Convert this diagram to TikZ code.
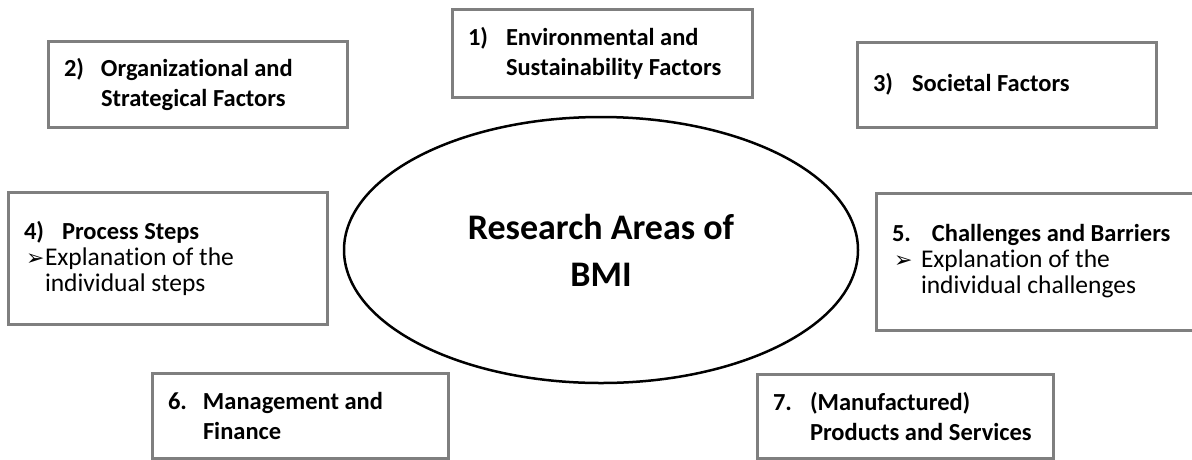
\documentclass[tikz,border=0pt]{standalone}
\usepackage{fontspec}
\setmainfont{Carlito}[Ligatures=NoCommon]
\newfontfamily\symfont{DejaVu Sans}
\usetikzlibrary{shapes.geometric}
\definecolor{boxgray}{RGB}{127,127,127}
\newcommand{\lbl}[2][37pt]{\makebox[#1][l]{#2}}
\newcommand{\bul}[1][22pt]{\makebox[#1][l]{\hspace*{2pt}\symfont\fontsize{22}{22}\selectfont ➢}}
\newcommand{\expl}{\mdseries\fontsize{25.5}{26}\selectfont}

\begin{document}
\begin{tikzpicture}[
        x=1pt, y=-1pt,
        factor/.style={draw=boxgray, line width=3pt, inner xsep=16pt, inner ysep=0pt, align=left,
                       font=\fontsize{24.5}{30}\selectfont\bfseries,
                       execute at begin node={\spaceskip=0pt\xspaceskip=0pt\relax}},
        list/.style={font=\fontsize{24.5}{26}\selectfont\bfseries},
        core/.style={draw, ellipse, line width=2.5pt, align=center,
                     font=\fontsize{36}{47}\selectfont\bfseries}
    ]
        \useasboundingbox (0,0) rectangle (1192,459);

        \node[factor, text width=268pt, minimum height=88pt] (env) at (602,53)
            {\lbl[38pt]{1)}Environmental and\\\lbl[38pt]{}Sustainability Factors};
        \node[factor, text width=267pt, minimum height=86pt] (org) at (197.5,84)
            {\lbl{2)}Organizational and\\\lbl{}Strategical Factors};
        \node[factor, text width=267pt, minimum height=85pt] (soc) at (1006.5,84.5)
            {\lbl[39pt]{3)}Societal Factors};
        \node[factor, list, text width=287pt, minimum height=132pt] (proc) at (167.5,258)
            {\lbl[38pt]{4)}Process Steps\\{\expl\bul[21pt]Explanation of the\\\hspace*{21pt}individual steps}};
        \node[factor, list, text width=288pt, minimum height=137pt] (chal) at (1036,261.5)
            {\lbl[40pt]{5.}Challenges and Barriers\\{\expl\bul[29pt]Explanation of the\\\hspace*{29pt}individual challenges}};
        \node[factor, text width=264pt, minimum height=85pt] (mgmt) at (300,415.5)
            {\lbl[35pt]{6.}Management and\\\lbl[35pt]{}Finance};
        \node[factor, text width=264pt, minimum height=84pt] (prod) at (905,416)
            {\lbl{7.}(Manufactured)\\\lbl{}Products and Services};

        \node[core, minimum width=514pt, minimum height=266pt] (bmi) at (601,250)
            {Research Areas of\\BMI};
    \end{tikzpicture}
\end{document}
